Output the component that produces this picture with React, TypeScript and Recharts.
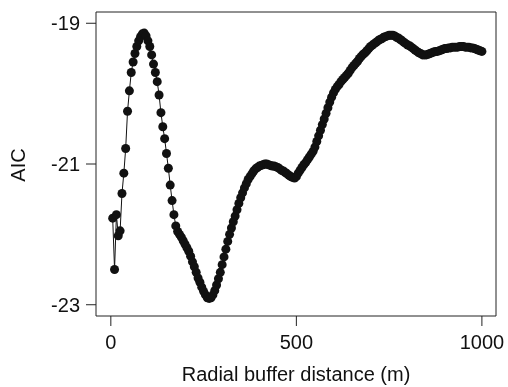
import { LineChart, Line, XAxis, YAxis, ReferenceArea } from 'recharts'

// radial buffer distance (m)
const distance = [
	5, 10, 15, 20, 25, 30, 35, 40, 45, 50,
	55, 60, 65, 70, 75, 80, 85, 90, 95, 100,
	105, 110, 115, 120, 125, 130, 135, 140, 145, 150,
	155, 160, 165, 170, 175, 180, 185, 190, 195, 200,
	205, 210, 215, 220, 225, 230, 235, 240, 245, 250,
	255, 260, 265, 270, 275, 280, 285, 290, 295, 300,
	305, 310, 315, 320, 325, 330, 335, 340, 345, 350,
	355, 360, 365, 370, 375, 380, 385, 390, 395, 400,
	405, 410, 415, 420, 425, 430, 435, 440, 445, 450,
	455, 460, 465, 470, 475, 480, 485, 490, 495, 500,
	505, 510, 515, 520, 525, 530, 535, 540, 545, 550,
	555, 560, 565, 570, 575, 580, 585, 590, 595, 600,
	605, 610, 615, 620, 625, 630, 635, 640, 645, 650,
	655, 660, 665, 670, 675, 680, 685, 690, 695, 700,
	705, 710, 715, 720, 725, 730, 735, 740, 745, 750,
	755, 760, 765, 770, 775, 780, 785, 790, 795, 800,
	805, 810, 815, 820, 825, 830, 835, 840, 845, 850,
	855, 860, 865, 870, 875, 880, 885, 890, 895, 900,
	905, 910, 915, 920, 925, 930, 935, 940, 945, 950,
	955, 960, 965, 970, 975, 980, 985, 990, 995, 1000,
]

const aic = [
	-21.77, -22.5, -21.72, -22.02, -21.95, -21.42, -21.13, -20.78, -20.25, -19.96,
	-19.7, -19.55, -19.43, -19.33, -19.25, -19.19, -19.15, -19.14, -19.18, -19.25,
	-19.33, -19.45, -19.58, -19.7, -19.83, -20.02, -20.27, -20.47, -20.64, -20.85,
	-21.06, -21.3, -21.52, -21.72, -21.88, -21.96, -22.0, -22.04, -22.09, -22.14,
	-22.19, -22.24, -22.31, -22.39, -22.46, -22.54, -22.62, -22.68, -22.75, -22.81,
	-22.86, -22.9, -22.91, -22.9, -22.86, -22.8, -22.72, -22.63, -22.54, -22.43,
	-22.32, -22.21, -22.1, -22.0, -21.91, -21.82, -21.74, -21.65, -21.56, -21.48,
	-21.41, -21.34, -21.28, -21.22, -21.18, -21.14, -21.1, -21.07, -21.05, -21.03,
	-21.02, -21.01, -21.0, -21.0, -21.01, -21.02, -21.03, -21.03, -21.04, -21.05,
	-21.07, -21.09, -21.1, -21.12, -21.14, -21.16, -21.18, -21.19, -21.2, -21.18,
	-21.13, -21.09, -21.05, -21.01, -20.98, -20.94, -20.9, -20.86, -20.82, -20.76,
	-20.68, -20.6, -20.52, -20.44, -20.36, -20.28, -20.2, -20.12, -20.05, -19.99,
	-19.94, -19.9, -19.87, -19.83, -19.8, -19.77, -19.74, -19.71, -19.67, -19.63,
	-19.6, -19.57, -19.54, -19.5, -19.47, -19.44, -19.42, -19.39, -19.36, -19.33,
	-19.31, -19.29, -19.27, -19.25, -19.23, -19.22, -19.2, -19.19, -19.18, -19.17,
	-19.17, -19.17, -19.18, -19.2, -19.21, -19.23, -19.25, -19.27, -19.29, -19.31,
	-19.32, -19.34, -19.36, -19.38, -19.4, -19.42, -19.43, -19.45, -19.45, -19.45,
	-19.44, -19.43, -19.42, -19.41, -19.4, -19.4, -19.39, -19.38, -19.37, -19.36,
	-19.36, -19.35, -19.35, -19.34, -19.34, -19.34, -19.34, -19.33, -19.33, -19.33,
	-19.34, -19.34, -19.34, -19.35, -19.35, -19.36, -19.37, -19.38, -19.39, -19.4,
]

const xTicks = [0, 500, 1000]
const yTicks = [-23, -21, -19]

const data = distance.map((d, i) => ({ distance: d, aic: aic[i] }))

const font = "'Liberation Sans', Arial, sans-serif"
const xDomain = [-40, 1038]
const yDomain = [-23.16, -18.84]

const App = () => {
	// pinned to the window corner so the page never gets scrollbars
	return (
		<div
			style={{
				position: 'fixed',
				left: 0,
				top: 0,
				width: 508,
				height: 387,
				overflow: 'hidden',
			}}
		>
			<LineChart
				width={508}
				height={387}
				data={data}
				margin={{ top: 12, right: 12, left: 0, bottom: 0 }}
			>
				<XAxis
					dataKey='distance'
					type='number'
					domain={xDomain}
					ticks={xTicks}
					allowDataOverflow
					axisLine={false}
					tickSize={10}
					tickMargin={9}
					height={71}
					tickLine={{ stroke: '#222' }}
					tick={{ fill: '#111', fontSize: 20, fontFamily: font }}
					label={{
						content: () => (
							<text
								x={296}
								y={374}
								textAnchor='middle'
								dominantBaseline='central'
								fontSize={20}
								fontFamily={font}
								fill='#111'
							>
								Radial buffer distance (m)
							</text>
						),
					}}
				/>
				<YAxis
					type='number'
					domain={yDomain}
					ticks={yTicks}
					allowDataOverflow
					axisLine={false}
					width={96}
					tickSize={10}
					tickMargin={6}
					tickLine={{ stroke: '#222' }}
					tick={{ fill: '#111', fontSize: 20, fontFamily: font }}
					label={{
						content: () => (
							<text
								x={18}
								y={165}
								transform='rotate(-90 18 165)'
								textAnchor='middle'
								dominantBaseline='central'
								fontSize={20}
								fontFamily={font}
								fill='#111'
							>
								AIC
							</text>
						),
					}}
				/>
				<ReferenceArea
					x1={xDomain[0]}
					x2={xDomain[1]}
					y1={yDomain[0]}
					y2={yDomain[1]}
					fill='none'
					stroke='#222'
					strokeWidth={1}
				/>
				<Line
					dataKey='aic'
					type='linear'
					stroke='#111'
					strokeWidth={1}
					dot={{ r: 4.5, fill: '#111', stroke: 'none' }}
					isAnimationActive={false}
				/>
			</LineChart>
		</div>
	)
}

export default App
